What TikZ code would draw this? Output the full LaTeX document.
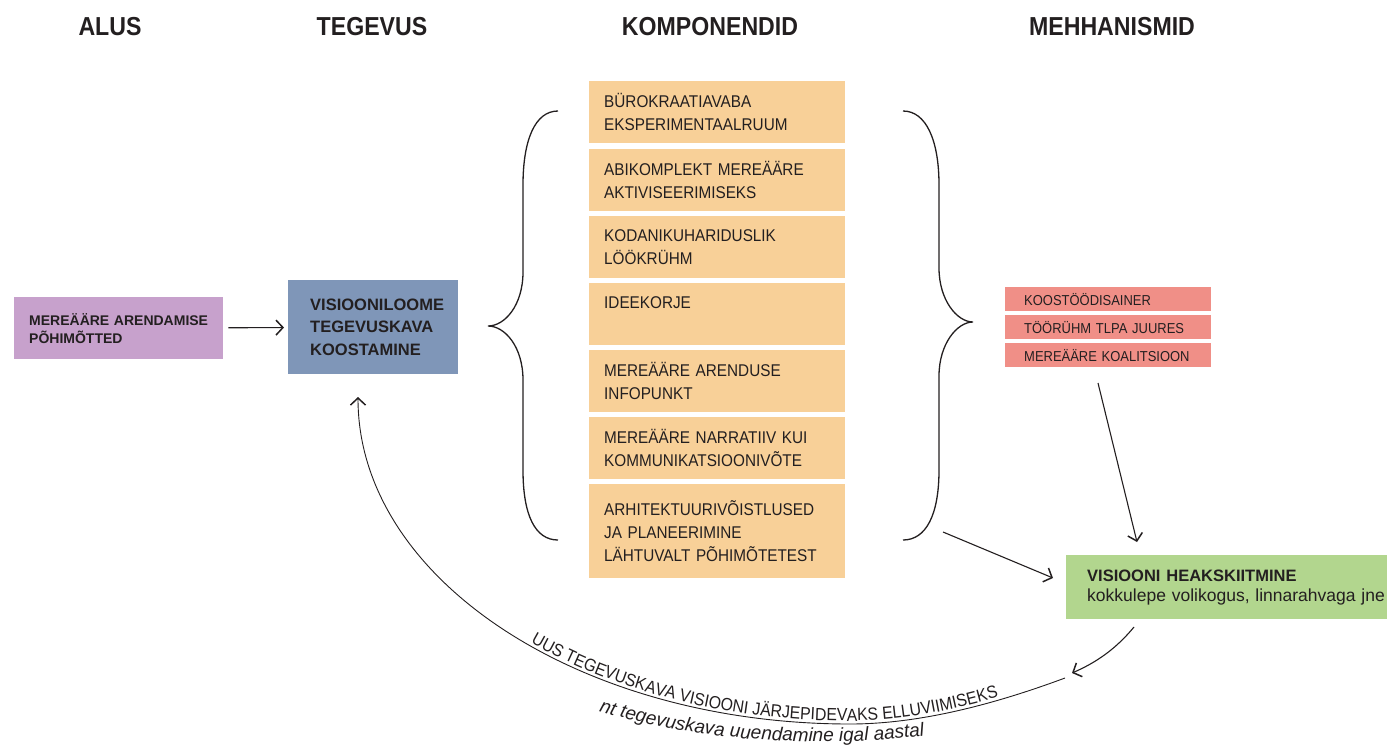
\documentclass[tikz,border=0pt]{standalone}
\usepackage{fontspec}
\setmainfont{Liberation Sans}
\newfontfamily\capfont{Liberation Sans}[FakeStretch=0.9]
\newfontfamily\headfont{Liberation Sans}[FakeStretch=0.89]
\usetikzlibrary{arrows.meta,decorations.text}
\definecolor{ink}{HTML}{231F20}
\definecolor{cPurple}{RGB}{199,161,204}
\definecolor{cBlue}{RGB}{127,150,184}
\definecolor{cOrange}{RGB}{248,208,152}
\definecolor{cRed}{RGB}{240,143,135}
\definecolor{cGreen}{RGB}{178,214,142}
\begin{document}
\begin{tikzpicture}[x=1pt,y=-1pt,
  every node/.style={text=ink},
  head/.style={font=\headfont\bfseries\fontsize{26}{30}\selectfont, anchor=base, inner sep=0pt},
  box/.style={anchor=north west, inner ysep=0pt, align=left},
  comp/.style={box, fill=cOrange, minimum width=256pt, text width=226pt, inner xsep=15pt, font=\capfont\fontsize{17}{23}\selectfont},
  mech/.style={box, fill=cRed, minimum width=206pt, minimum height=24pt, text width=168pt, inner xsep=19pt, font=\capfont\fontsize{14.4}{16}\selectfont},
  brace/.style={draw=ink, line width=1.3pt},
  line/.style={draw=ink, line width=1.1pt},
  arr/.style={line, -{Straight Barb[length=7pt,width=15pt,line width=1.5pt]}},
]
\path[use as bounding box, clip] (0,0) rectangle (1387,745);

% headings
\node[head] (hAlus) at (110,35) {ALUS};
\node[head] (hTeg) at (372,35) {TEGEVUS};
\node[head] (hKomp) at (710,35) {KOMPONENDID};
\node[head] (hMeh) at (1112,35) {MEHHANISMID};

% left column
\node[box, fill=cPurple, minimum width=209pt, minimum height=62pt, text width=179pt, inner xsep=15pt,
      font=\bfseries\fontsize{14}{18}\selectfont] (alus) at (14,297) {MEREÄÄRE ARENDAMISE\\PÕHIMÕTTED};
\node[box, fill=cBlue, minimum width=170pt, minimum height=94pt, text width=126pt, inner xsep=22pt,
      font=\bfseries\fontsize{16.5}{22.5}\selectfont] (teg) at (288,280) {VISIOONILOOME\\TEGEVUSKAVA\\KOOSTAMINE};

% components
\node[comp, minimum height=62pt] (k1) at (589,81) {BÜROKRAATIAVABA\\EKSPERIMENTAALRUUM};
\node[comp, minimum height=62pt] (k2) at (589,149) {ABIKOMPLEKT MEREÄÄRE\\AKTIVISEERIMISEKS};
\node[comp, minimum height=62pt] (k3) at (589,216) {KODANIKUHARIDUSLIK\\LÖÖKRÜHM};
\node[comp, minimum height=62pt] (k4) at (589,283) {IDEEKORJE\\\mbox{}};
\node[comp, minimum height=62pt] (k5) at (589,350) {MEREÄÄRE ARENDUSE\\INFOPUNKT};
\node[comp, minimum height=62pt] (k6) at (589,417) {MEREÄÄRE NARRATIIV KUI\\KOMMUNIKATSIOONIVÕTE};
\node[comp, minimum height=94pt] (k7) at (589,484) {ARHITEKTUURIVÕISTLUSED\\JA PLANEERIMINE\\LÄHTUVALT PÕHIMÕTETEST};

% mechanisms
\node[mech] (m1) at (1005,287) {KOOSTÖÖDISAINER};
\node[mech] (m2) at (1005,315) {TÖÖRÜHM TLPA JUURES};
\node[mech] (m3) at (1005,343) {MEREÄÄRE KOALITSIOON};

% approval
\node[box, fill=cGreen, minimum height=64pt, text width=330pt, inner xsep=21pt,
      font=\fontsize{17.5}{20}\selectfont] (vis) at (1066,555)
      {{\bfseries\fontsize{16.5}{20}\selectfont VISIOONI HEAKSKIITMINE}\\kokkulepe volikogus, linnarahvaga jne};

% braces
\draw[brace] (558,111) .. controls (535,111) and (523,140) .. (523,185) -- (523,272)
  .. controls (523,305) and (505,326) .. (488,326)
  .. controls (505,326) and (523,347) .. (523,380) -- (523,470)
  .. controls (523,515) and (535,540) .. (558,540);
\draw[brace] (903,111) .. controls (926,111) and (939,140) .. (939,185) -- (939,268)
  .. controls (939,300) and (957,322) .. (973,322)
  .. controls (957,322) and (939,344) .. (939,376) -- (939,470)
  .. controls (939,515) and (926,540) .. (903,540);

% connector end points
\coordinate (mOut) at (1098,383);
\coordinate (vIn1) at (1137,542);
\coordinate (bOut) at (943,532);
\coordinate (vIn2) at (1053,578);
\coordinate (vOut) at (1134,627);
\coordinate (lIn) at (1072,673);
\coordinate (lOut) at (1065,678);
\coordinate (tIn) at (358,397);

% connectors
\draw[arr, shorten <=5pt, shorten >=4pt] (alus) -- (teg);
\draw[arr] (mOut) -- (vIn1);
\draw[arr] (bOut) -- (vIn2);
\draw[arr] (vOut) .. controls (1115,650) and (1095,663) .. (lIn);
\draw[arr, line width=0.9pt] (lOut) .. controls (995,704) and (920,724) .. (850,724)
  .. controls (578,724) and (358,578) .. (tIn);

% texts along the loop
\path[decorate, decoration={text along path, text align={left indent=316pt}, raise=3pt,
  text={|\capfont\fontsize{17.6}{18}\selectfont\color{ink}|UUS TEGEVUSKAVA VISIOONI JÄRJEPIDEVAKS ELLUVIIMISEKS}}]
  (tIn) .. controls (358,578) and (578,724) .. (850,724) .. controls (920,724) and (995,704) .. (lOut);
\path[decorate, decoration={text along path, text align=left,
  text={|\itshape\fontsize{19}{20}\selectfont\color{ink}|nt tegevuskava uuendamine igal aastal}}]
  (599,711) .. controls (690,740) and (830,753) .. (965,730);
\end{tikzpicture}
\end{document}
